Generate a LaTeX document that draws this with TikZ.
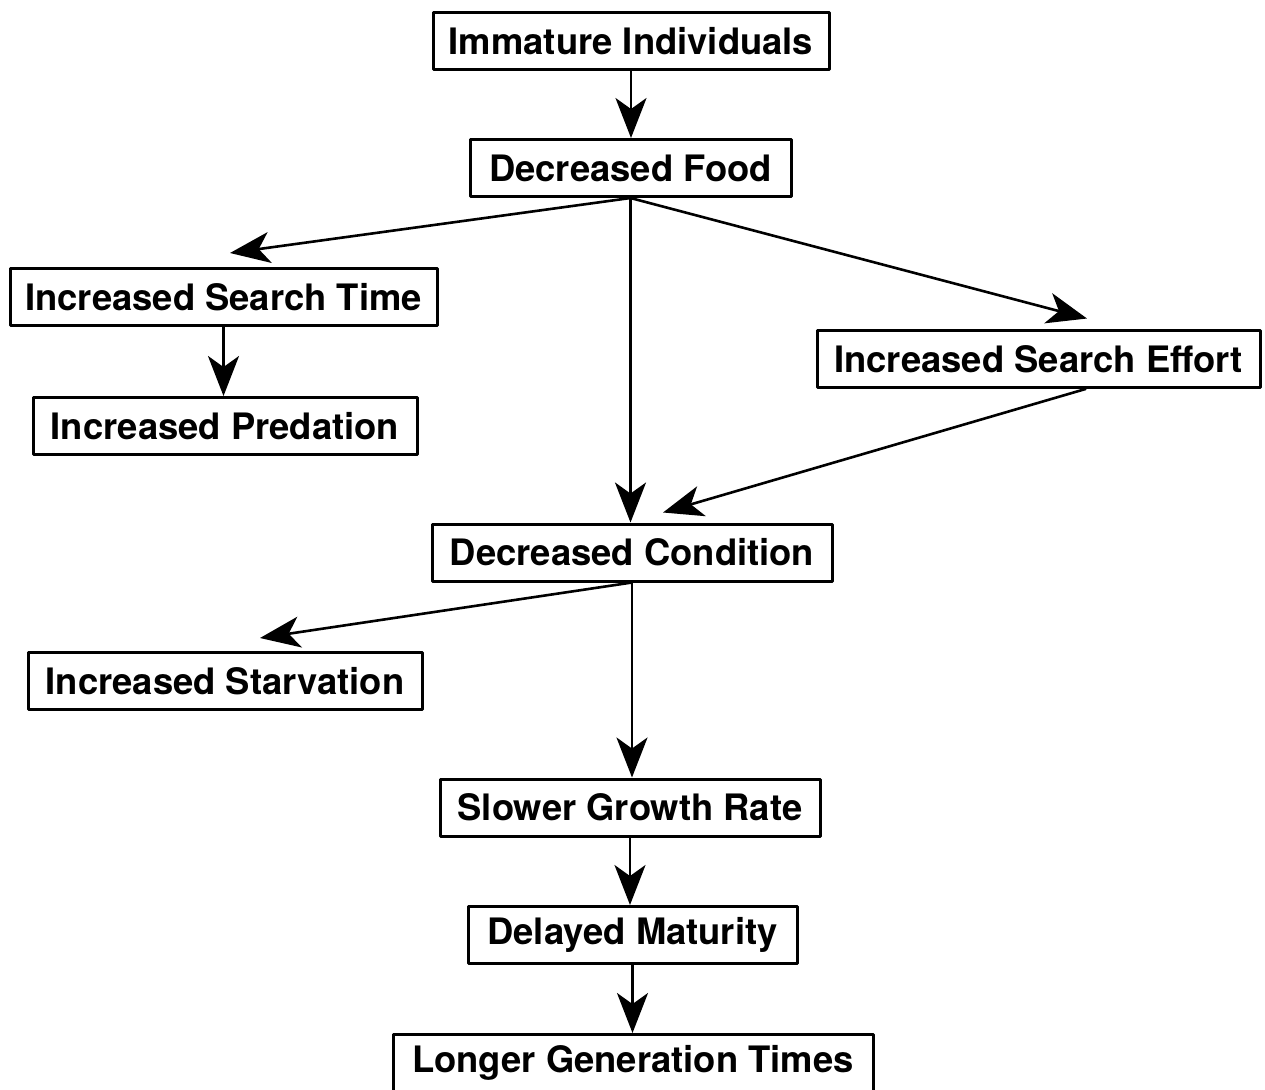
\documentclass[tikz,border=0pt]{standalone}
\usepackage{fontspec}
\setmainfont{TeX Gyre Heros}
\usetikzlibrary{arrows.meta,calc}

\begin{document}
\begin{tikzpicture}[x=0.5pt,y=-0.5pt,line cap=round,line join=round,
  box/.style={draw,line width=1.5pt,minimum height=28.5pt,inner sep=0pt,
    font=\fontsize{18.2}{20}\selectfont\bfseries},
  arr/.style={line width=1.3pt,-{Stealth[length=20pt,width=15.5pt,inset=5.5pt]}}]
  \useasboundingbox (0,0) rectangle (1265,1089);
  % main chain down the middle
  \node[box,minimum width=198pt]   (imm)    at (631,41)     {Immature Individuals};
  \node[box,minimum width=160.5pt] (food)   at (630.5,168)  {Decreased Food};
  \node[box,minimum width=200pt]   (cond)   at (632,552.5)  {Decreased Condition};
  \node[box,minimum width=190pt]   (slower) at (630,807.5)  {Slower Growth Rate};
  \node[box,minimum width=164.5pt] (delay)  at (632.5,935)  {Delayed Maturity};
  \node[box,minimum width=240pt]   (longer) at (633,1063)   {Longer Generation Times};
  % side branches
  \node[box,minimum width=213.5pt] (stime)  at (223.5,297)  {Increased Search Time};
  \node[box,minimum width=192pt]   (pred)   at (225,426)    {Increased Predation};
  \node[box,minimum width=221.5pt] (effort) at (1038.5,359) {Increased Search Effort};
  \node[box,minimum width=197pt]   (starv)  at (225,681)    {Increased Starvation};
  % connectors
  \draw[arr] (imm.south) -- (imm.south |- food.north);
  \draw[arr] (food.south) -- ($(stime.north)+(6.5,-14)$);
  \draw[arr] (food.south) -- ($(effort.north)+(48.5,-10.5)$);
  \draw[arr] (food.south) -- (food.south |- cond.north);
  \draw[arr] (stime.south) -- (stime.south |- pred.north);
  \draw[arr] ($(effort.south)+(47,0)$) -- ($(cond.north)+(31,-10)$);
  \draw[arr] (cond.south) -- ($(starv.north)+(35,-13)$);
  \draw[arr] (cond.south) -- (cond.south |- slower.north);
  \draw[arr] (slower.south) -- (slower.south |- delay.north);
  \draw[arr] (delay.south) -- (delay.south |- longer.north);
\end{tikzpicture}
\end{document}
